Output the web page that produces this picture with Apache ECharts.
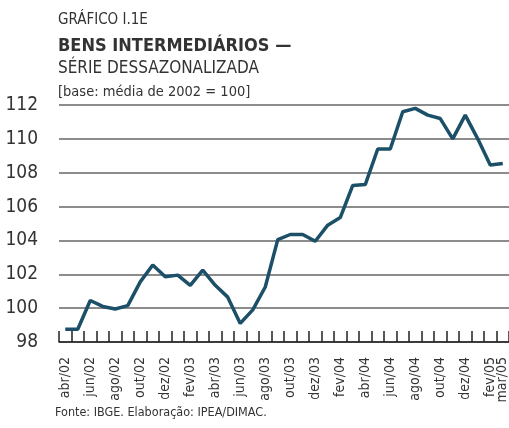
<!DOCTYPE html>
<html>
<head>
<meta charset="utf-8">
<script src="https://cdn.jsdelivr.net/npm/echarts@6/dist/echarts.min.js"></script>
<style>
  html, body { margin: 0; padding: 0; background: #fff; }
  #chart { width: 509px; height: 428px; }
</style>
</head>
<body>
<div id="chart"></div>
<script>
  // meses de abr/02 a mar/05
  var months = [
    'abr/02', 'mai/02', 'jun/02', 'jul/02', 'ago/02', 'set/02', 'out/02', 'nov/02', 'dez/02',
    'jan/03', 'fev/03', 'mar/03', 'abr/03', 'mai/03', 'jun/03', 'jul/03', 'ago/03', 'set/03',
    'out/03', 'nov/03', 'dez/03', 'jan/04', 'fev/04', 'mar/04', 'abr/04', 'mai/04', 'jun/04',
    'jul/04', 'ago/04', 'set/04', 'out/04', 'nov/04', 'dez/04', 'jan/05', 'fev/05', 'mar/05'
  ];
  // série dessazonalizada (base: média de 2002 = 100)
  var values = [
    98.75, 98.75, 100.45, 100.1, 99.95, 100.15, 101.55, 102.55, 101.85, 101.95, 101.35, 102.25,
    101.35, 100.65, 99.1, 99.9, 101.25, 104.05, 104.35, 104.35, 103.95, 104.9, 105.35, 107.25,
    107.3, 109.4, 109.4, 111.6, 111.8, 111.4, 111.2, 110.0, 111.4, 110.0, 108.45, 108.55
  ];
  var yTicks = [98, 100, 102, 104, 106, 108, 110, 112];

  var font = '"Liberation Sans Narrow", "DejaVu Sans Condensed", sans-serif';
  var txt = '#333333';
  var last = months.length - 1;

  var myChart = echarts.init(document.getElementById('chart'));

  function ttl(text, top, size, weight, left) {
    return {
      text: text, left: left || 58, top: top, padding: 0,
      textStyle: { fontFamily: font, fontSize: size, fontWeight: weight || 'normal', color: txt }
    };
  }

  function xLabel(show) {
    return {
      rotate: 90,
      margin: 15,
      fontFamily: font,
      fontSize: 14,
      color: txt,
      hideOverlap: false,
      interval: show
    };
  }

  var option = {
    backgroundColor: '#fff',
    animation: false,
    title: [
      ttl('GRÁFICO I.1E', 13, 15),
      ttl('BENS INTERMEDIÁRIOS —', 37, 18, 'bold'),
      ttl('SÉRIE DESSAZONALIZADA', 60, 17),
      ttl('[base: média de 2002 = 100]', 85, 14.5),
      ttl('Fonte: IBGE. Elaboração: IPEA/DIMAC.', 406, 12.5, 'normal', 55)
    ],
    grid: { left: 59, right: 0, top: 105, bottom: 86, outerBoundsMode: 'none' },
    xAxis: [{
      type: 'category',
      data: months,
      boundaryGap: true,
      axisLine: { show: true, lineStyle: { color: '#222', width: 1.5 } },
      axisTick: { show: true, inside: true, length: 11, interval: 0, lineStyle: { color: '#222', width: 1.5 } },
      axisLabel: xLabel(function (i) { return i % 2 === 0; }),
      splitLine: { show: false }
    }, {
      // segundo eixo só para o rótulo mar/05
      type: 'category',
      data: months,
      position: 'bottom',
      boundaryGap: true,
      axisLine: { show: false },
      axisTick: { show: false },
      axisLabel: xLabel(function (i) { return i === last; }),
      splitLine: { show: false }
    }],
    yAxis: {
      type: 'value',
      min: yTicks[0],
      max: yTicks[yTicks.length - 1],
      interval: 2,
      axisLine: { show: false },
      axisTick: { show: false },
      axisLabel: { margin: 21, fontFamily: font, fontSize: 19, color: txt },
      splitLine: { lineStyle: { color: '#666', width: 1.5 } }
    },
    series: [{
      name: 'Bens intermediários',
      type: 'line',
      data: values,
      symbol: 'none',
      lineStyle: { color: '#1b5068', width: 3.5 },
      z: 5
    }]
  };

  myChart.setOption(option);
</script>
</body>
</html>
